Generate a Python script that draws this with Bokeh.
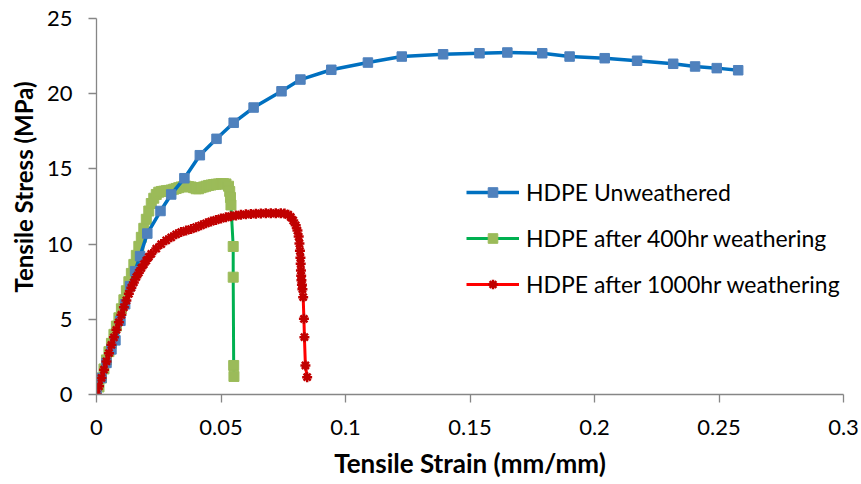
from bokeh.plotting import figure
from bokeh.models import Range1d, FixedTicker, NumeralTickFormatter, Legend, LegendItem, Title
from bokeh.embed import file_html
from bokeh.resources import INLINE

# ---------------- data ----------------
series_names = ["HDPE Unweathered", "HDPE after 400hr weathering", "HDPE after 1000hr weathering"]

strain_unw = [0.000, 0.002, 0.004, 0.006, 0.0076, 0.0096, 0.0115, 0.0135, 0.0155, 0.0175,
              0.0204, 0.0257, 0.0300, 0.0353, 0.0415, 0.0482, 0.0551, 0.0631, 0.0743,
              0.0819, 0.0943, 0.1090, 0.1226, 0.1392, 0.1538, 0.1650, 0.1790, 0.1900,
              0.2041, 0.2171, 0.2316, 0.2404, 0.2491, 0.2577]
stress_unw = [0.0, 1.1, 2.1, 3.0, 3.6, 4.9, 6.0, 7.2, 8.2, 9.2,
              10.7, 12.2, 13.3, 14.38, 15.91, 17.0, 18.07, 19.08, 20.16,
              20.94, 21.59, 22.07, 22.47, 22.62, 22.69, 22.74, 22.69, 22.47,
              22.36, 22.19, 21.99, 21.81, 21.70, 21.56]

strain_400 = [0.000, 0.001, 0.002, 0.003, 0.004, 0.005, 0.006, 0.007, 0.008, 0.009,
              0.010, 0.011, 0.012, 0.013, 0.014, 0.015, 0.016, 0.017, 0.018, 0.019,
              0.020, 0.021, 0.022, 0.023, 0.024, 0.025, 0.026, 0.027, 0.028, 0.029,
              0.030, 0.031, 0.032, 0.033, 0.034, 0.035, 0.036, 0.037, 0.038, 0.039,
              0.040, 0.041, 0.042, 0.043, 0.044, 0.045, 0.046, 0.047, 0.048, 0.049,
              0.050, 0.051, 0.052, 0.053, 0.0535, 0.0538, 0.0540, 0.0549, 0.0549,
              0.0551, 0.0552]
stress_400 = [0.0, 0.5, 1.1, 1.7, 2.3, 2.85, 3.4, 4.0, 4.55, 5.1,
              5.7, 6.3, 6.9, 7.5, 8.05, 8.65, 9.25, 9.85, 10.45, 11.05,
              11.65, 12.2, 12.7, 13.05, 13.3, 13.45, 13.5, 13.52, 13.55, 13.57,
              13.6, 13.65, 13.7, 13.75, 13.8, 13.83, 13.85, 13.82, 13.8, 13.75,
              13.68, 13.68, 13.75, 13.8, 13.85, 13.9, 13.93, 13.96, 13.98, 14.0,
              14.02, 14.02, 14.0, 13.85, 13.5, 13.1, 12.6, 9.84, 7.8,
              1.93, 1.2]

strain_1000 = [0.000, 0.001, 0.002, 0.003, 0.004, 0.005, 0.006, 0.007, 0.008, 0.009,
               0.010, 0.011, 0.012, 0.013, 0.014, 0.015, 0.016, 0.017, 0.018, 0.019,
               0.020, 0.021, 0.022, 0.024, 0.026, 0.028, 0.030, 0.032, 0.034, 0.036,
               0.038, 0.040, 0.042, 0.044, 0.046, 0.048, 0.050, 0.052, 0.054, 0.056,
               0.058, 0.060, 0.062, 0.064, 0.066, 0.068, 0.070, 0.072, 0.074, 0.0755,
               0.077, 0.078, 0.079, 0.080, 0.0807, 0.0812, 0.0815, 0.0817, 0.0819,
               0.0820, 0.0821, 0.0822, 0.0823, 0.0825, 0.0827, 0.0830, 0.0833, 0.0835,
               0.0839, 0.0846]
stress_1000 = [0.0, 0.55, 1.1, 1.65, 2.2, 2.75, 3.3, 3.8, 4.3, 4.8,
               5.3, 5.8, 6.25, 6.7, 7.1, 7.45, 7.8, 8.1, 8.4, 8.65,
               8.9, 9.15, 9.35, 9.7, 10.0, 10.25, 10.45, 10.65, 10.8, 10.9,
               11.0, 11.12, 11.25, 11.38, 11.5, 11.6, 11.7, 11.78, 11.85, 11.9,
               11.95, 11.98, 12.0, 12.02, 12.04, 12.05, 12.05, 12.05, 12.05, 12.03,
               11.95, 11.8, 11.57, 11.25, 10.9, 10.5, 10.04, 9.55, 9.1,
               8.7, 8.24, 7.9, 7.6, 7.3, 7.0, 6.47, 5.03, 3.81,
               1.93, 1.15]

x_ticks = [0, 0.05, 0.1, 0.15, 0.2, 0.25, 0.3]
y_ticks = [0, 5, 10, 15, 20, 25]

# ---------------- figure ----------------
p = figure(width=861, height=484, output_backend="svg", toolbar_location=None,
           x_range=Range1d(0, 0.3), y_range=Range1d(0, 25),
           min_border_left=96, min_border_right=18, min_border_top=18, min_border_bottom=90)
p.outline_line_color = None
p.grid.visible = False
p.background_fill_color = "white"
p.border_fill_color = "white"

FONT = "Lato"
for ax in (p.xaxis[0], p.yaxis[0]):
    ax.axis_line_color = "#868686"
    ax.axis_line_width = 1.3
    ax.major_tick_line_color = "#868686"
    ax.major_tick_line_width = 1.3
    ax.minor_tick_line_color = None
    ax.major_tick_in = 0
    ax.major_tick_out = 8
    ax.major_label_text_font = FONT
    ax.major_label_text_font_size = "22px"
    ax.major_label_text_color = "#000000"

p.xaxis.ticker = FixedTicker(ticks=x_ticks)
p.xaxis.formatter = NumeralTickFormatter(format="0.[00]")
p.yaxis.ticker = FixedTicker(ticks=y_ticks)
p.xaxis.major_label_standoff = 17
p.yaxis.major_label_standoff = 16

p.xaxis.axis_label = "Tensile Strain (mm/mm)"
p.xaxis.axis_label_text_font = FONT
p.xaxis.axis_label_text_font_style = "bold"
p.xaxis.axis_label_text_font_size = "26px"
p.xaxis.axis_label_text_color = "#000000"
p.xaxis.axis_label_standoff = 9

ytitle = Title(text="Tensile Stress (MPa)", align="left", offset=102,
               text_font=FONT, text_font_style="bold", text_font_size="24px",
               text_color="#000000", standoff=12)
p.add_layout(ytitle, "left")

# ---------------- series ----------------
g_line = p.line(strain_400, stress_400, line_color="#00B050", line_width=3)
g_pts = p.scatter(strain_400, stress_400, marker="square", size=10,
                  fill_color="#9BBB59", line_color="#9BBB59")

b_line = p.line(strain_unw, stress_unw, line_color="#0070C0", line_width=3.5)
b_pts = p.scatter(strain_unw, stress_unw, marker="square", size=9.5,
                  fill_color="#4F81BD", line_color="#4F81BD")

r_line = p.line(strain_1000, stress_1000, line_color="#FF0000", line_width=3)
r_pts = p.scatter(strain_1000, stress_1000, marker="asterisk", size=10,
                  line_color="#C00000", line_width=2.5)

legend = Legend(items=[LegendItem(label=series_names[0], renderers=[b_line, b_pts]),
                       LegendItem(label=series_names[1], renderers=[g_line, g_pts]),
                       LegendItem(label=series_names[2], renderers=[r_line, r_pts])],
                location=(370, 96), orientation="vertical",
                label_text_font=FONT, label_text_font_size="23px", label_text_color="#000000",
                glyph_width=53, glyph_height=24, label_height=24, label_standoff=7,
                spacing=18, padding=0, margin=0,
                border_line_color=None, background_fill_alpha=0)
p.add_layout(legend)

open("out.html", "w").write(file_html(p, INLINE))
